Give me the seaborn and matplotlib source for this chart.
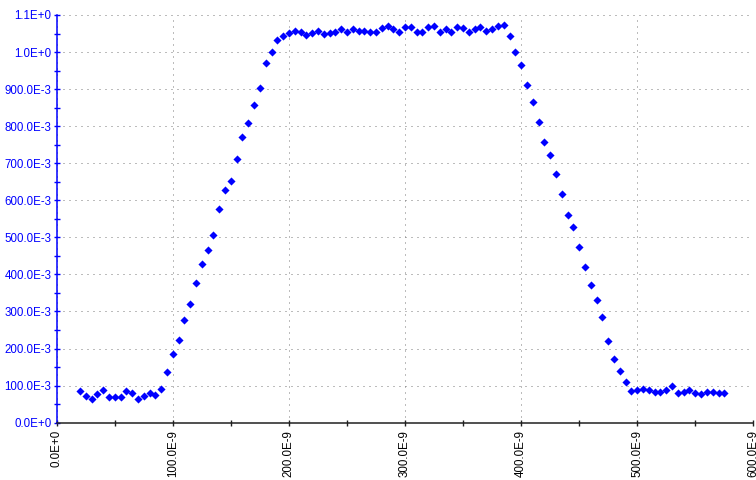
import matplotlib
matplotlib.use("Agg")
import matplotlib.pyplot as plt
import seaborn as sns
import numpy as np
import pandas as pd
from matplotlib.ticker import FixedLocator, FixedFormatter, MultipleLocator

# Sample times (s) and measured amplitude
time_ns = list(range(20, 580, 5))
amplitude = [
    0.085, 0.073, 0.063, 0.077, 0.088, 0.070, 0.070, 0.070, 0.085, 0.080,
    0.064, 0.073, 0.080, 0.076, 0.091, 0.137, 0.184, 0.223, 0.278, 0.319,
    0.377, 0.428, 0.465, 0.507, 0.576, 0.627, 0.651, 0.711, 0.772, 0.808,
    0.856, 0.903, 0.971, 1.000, 1.033, 1.043, 1.051, 1.058, 1.055, 1.046,
    1.052, 1.058, 1.049, 1.052, 1.055, 1.061, 1.055, 1.061, 1.058, 1.058,
    1.055, 1.055, 1.064, 1.069, 1.061, 1.055, 1.067, 1.067, 1.055, 1.055,
    1.067, 1.069, 1.055, 1.061, 1.055, 1.067, 1.064, 1.055, 1.061, 1.067,
    1.058, 1.061, 1.069, 1.072, 1.042, 0.999, 0.964, 0.911, 0.865, 0.811,
    0.757, 0.721, 0.672, 0.618, 0.561, 0.527, 0.474, 0.420, 0.371, 0.332,
    0.284, 0.220, 0.173, 0.140, 0.110, 0.085, 0.087, 0.091, 0.089, 0.083,
    0.084, 0.089, 0.098, 0.080, 0.084, 0.089, 0.079, 0.077, 0.084, 0.083,
    0.080, 0.079,
]

x_ticks = [0, 100e-9, 200e-9, 300e-9, 400e-9, 500e-9, 600e-9]
x_labels = ["0.0E+0", "100.0E-9", "200.0E-9", "300.0E-9", "400.0E-9", "500.0E-9", "600.0E-9"]
y_ticks = [0.0, 0.1, 0.2, 0.3, 0.4, 0.5, 0.6, 0.7, 0.8, 0.9, 1.0, 1.1]
y_labels = ["0.0E+0", "100.0E-3", "200.0E-3", "300.0E-3", "400.0E-3", "500.0E-3",
            "600.0E-3", "700.0E-3", "800.0E-3", "900.0E-3", "1.0E+0", "1.1E+0"]

df = pd.DataFrame({"t": np.array(time_ns) * 1e-9, "v": amplitude})

sns.set_style("white")
plt.rcParams["font.family"] = ["Liberation Sans", "DejaVu Sans"]

fig = plt.figure(figsize=(7.56, 4.8), dpi=100)
ax = fig.add_axes([0.075, 0.1194, 0.9215, 0.8494])

blue = "#0000FF"

sns.scatterplot(data=df, x="t", y="v", ax=ax, marker="D", s=17,
                color=blue, linewidth=0, zorder=3, legend=False)

ax.set_xlim(0, 600e-9)
ax.set_ylim(0, 1.1)

ax.xaxis.set_major_locator(FixedLocator(x_ticks))
ax.xaxis.set_major_formatter(FixedFormatter(x_labels))
ax.xaxis.set_minor_locator(MultipleLocator(50e-9))
ax.yaxis.set_major_locator(FixedLocator(y_ticks))
ax.yaxis.set_major_formatter(FixedFormatter(y_labels))
ax.yaxis.set_minor_locator(MultipleLocator(0.05))

ax.set_xlabel("")
ax.set_ylabel("")

for side in ("top", "right"):
    ax.spines[side].set_visible(False)
ax.spines["left"].set_color(blue)
ax.spines["left"].set_linewidth(1.1)
ax.spines["bottom"].set_color("#202020")
ax.spines["bottom"].set_linewidth(1.1)

ax.tick_params(axis="y", which="both", direction="inout", length=4.5, width=1,
               color=blue, labelcolor=blue, labelsize=8.3, pad=1.5, left=True)
ax.tick_params(axis="x", which="both", direction="inout", length=4.5, width=1,
               color="#202020", labelcolor="black", labelsize=8.3, pad=3,
               bottom=True, labelrotation=90)

ax.grid(True, which="major", color="#7a7a7a", linewidth=0.72,
        linestyle=(0, (1, 5)))
ax.set_axisbelow(True)

fig.savefig("out.png", dpi=100)
